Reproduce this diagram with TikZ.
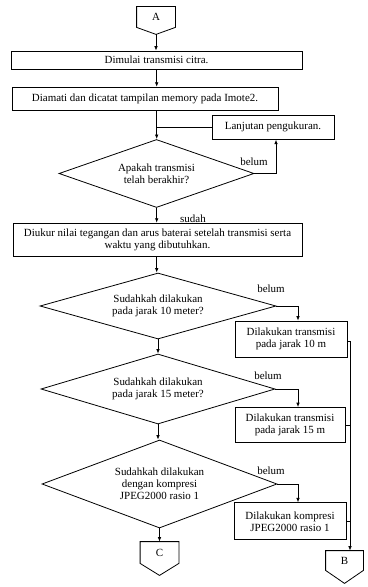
\documentclass[tikz,border=0pt]{standalone}
\usepackage{fontspec}
\setmainfont{Liberation Serif}
\usetikzlibrary{shapes.geometric,arrows.meta,calc}
\begin{document}
\begin{tikzpicture}[x=1bp,y=-1bp,
  every node/.style={font=\fontsize{11}{12}\selectfont},
  line width=0.8bp,
  arr/.style={-{Latex[length=4.5bp,width=3.6bp]}},
  procbox/.style={draw,rectangle,inner sep=0pt,align=center},
  decision/.style={draw,diamond,aspect=3,inner sep=0pt,align=center},
  conn/.style={rectangle,inner sep=0pt,minimum width=38bp},
  lbl/.style={inner sep=0pt}]
\useasboundingbox[fill=white] (0,0) rectangle (367,587);

% connectors (off-page)
\node[conn,minimum height=20bp] (A) at (156,17) {A};
\coordinate (Atip) at ($(A.south)+(0,7)$);
\draw (A.north west) -- (A.north east) -- (A.south east) -- (Atip) -- (A.south west) -- cycle;

\node[conn,minimum height=21bp] (C) at (159.5,552.5) {C};
\coordinate (Ctip) at ($(C.south)+(0,12)$);
\draw (C.north west) -- (C.north east) -- (C.south east) -- (Ctip) -- (C.south west) -- cycle;

\node[conn,minimum height=19bp,minimum width=37bp] (B) at (344.5,560.5) {B};
\coordinate (Btip) at ($(B.south)+(0,13)$);
\draw (B.north west) -- (B.north east) -- (B.south east) -- (Btip) -- (B.south west) -- cycle;

% process boxes
\node[procbox,minimum width=291bp,minimum height=18bp] (b1) at (156.5,60) {Dimulai transmisi citra.};
\node[procbox,minimum width=266bp,minimum height=23.5bp] (b2) at (145,99) {Diamati dan dicatat tampilan memory pada Imote2.};
\node[procbox,minimum width=122bp,minimum height=24bp] (lj) at (273,127.3) {Lanjutan pengukuran.};
\node[procbox,minimum width=289bp,minimum height=33bp] (b3) at (157.5,239.7) {Diukur nilai tegangan dan arus baterai setelah transmisi serta\\waktu yang dibutuhkan.};
\node[procbox,minimum width=112bp,minimum height=36bp] (t10) at (291,339) {Dilakukan transmisi\\pada jarak 10 m};
\node[procbox,minimum width=110bp,minimum height=35bp] (t15) at (290,425) {Dilakukan transmisi\\pada jarak 15 m};
\node[procbox,minimum width=112bp,minimum height=37bp] (tk) at (290,521.3) {Dilakukan kompresi\\JPEG2000 rasio 1};

% decisions
\node[decision,minimum width=195bp,minimum height=68bp] (d1) at (156.5,173.5) {Apakah transmisi\\telah berakhir?};
\node[decision,minimum width=236bp,minimum height=66bp] (d2) at (158,306) {Sudahkah dilakukan\\pada jarak 10 meter?};
\node[decision,minimum width=234bp,minimum height=70bp] (d3) at (158,389) {Sudahkah dilakukan\\pada jarak 15 meter?};
\node[decision,minimum width=235bp,minimum height=88bp] (d4) at (159.5,484) {Sudahkah dilakukan\\dengan kompresi\\JPEG2000 rasio 1};

\coordinate (col) at (156.7,0);
\coordinate (rail) at (350,0);

% main flow
\draw[arr] (Atip) -- (Atip |- b1.north);
\draw[arr] (b1.south -| col) -- (b2.north -| col);
\draw[arr] (b2.south -| col) -- (d1.north -| col);
\draw (lj.west) -- (lj.west -| col);
\draw[arr] (d1.east) -| ([xshift=3bp]lj.south);
\draw[arr] (d1.south -| col) -- (b3.north -| col);
\draw[arr] (b3.south -| col) -- (d2.north -| col);
\draw[arr] (d2.south) -- (d3.north);
\draw[arr] (d3.south) -- (d3.south |- d4.north);
\draw[arr] (d4.south) -- (C.north);

% right branches
\draw[arr] (d2.east) -| ([xshift=7bp]t10.north);
\draw[arr] (d3.east) -| ([xshift=8bp]t15.north);
\draw[arr] (d4.east) -| ([xshift=8bp]tk.north);
\draw[arr] ([yshift=-2bp]t10.east) -- ([yshift=-2bp]t10.east -| rail) -- (rail |- B.north);
\draw (t15.east) -- (t15.east -| rail);
\draw (tk.east) -- (tk.east -| rail);

% labels
\node[lbl] (l1) at (254,161.5) {belum};
\node[lbl] (l2) at (271,289) {belum};
\node[lbl] (l3) at (268,376) {belum};
\node[lbl] (l4) at (271,471) {belum};
\node[lbl] (l5) at (193,218.5) {sudah};
\end{tikzpicture}
\end{document}
